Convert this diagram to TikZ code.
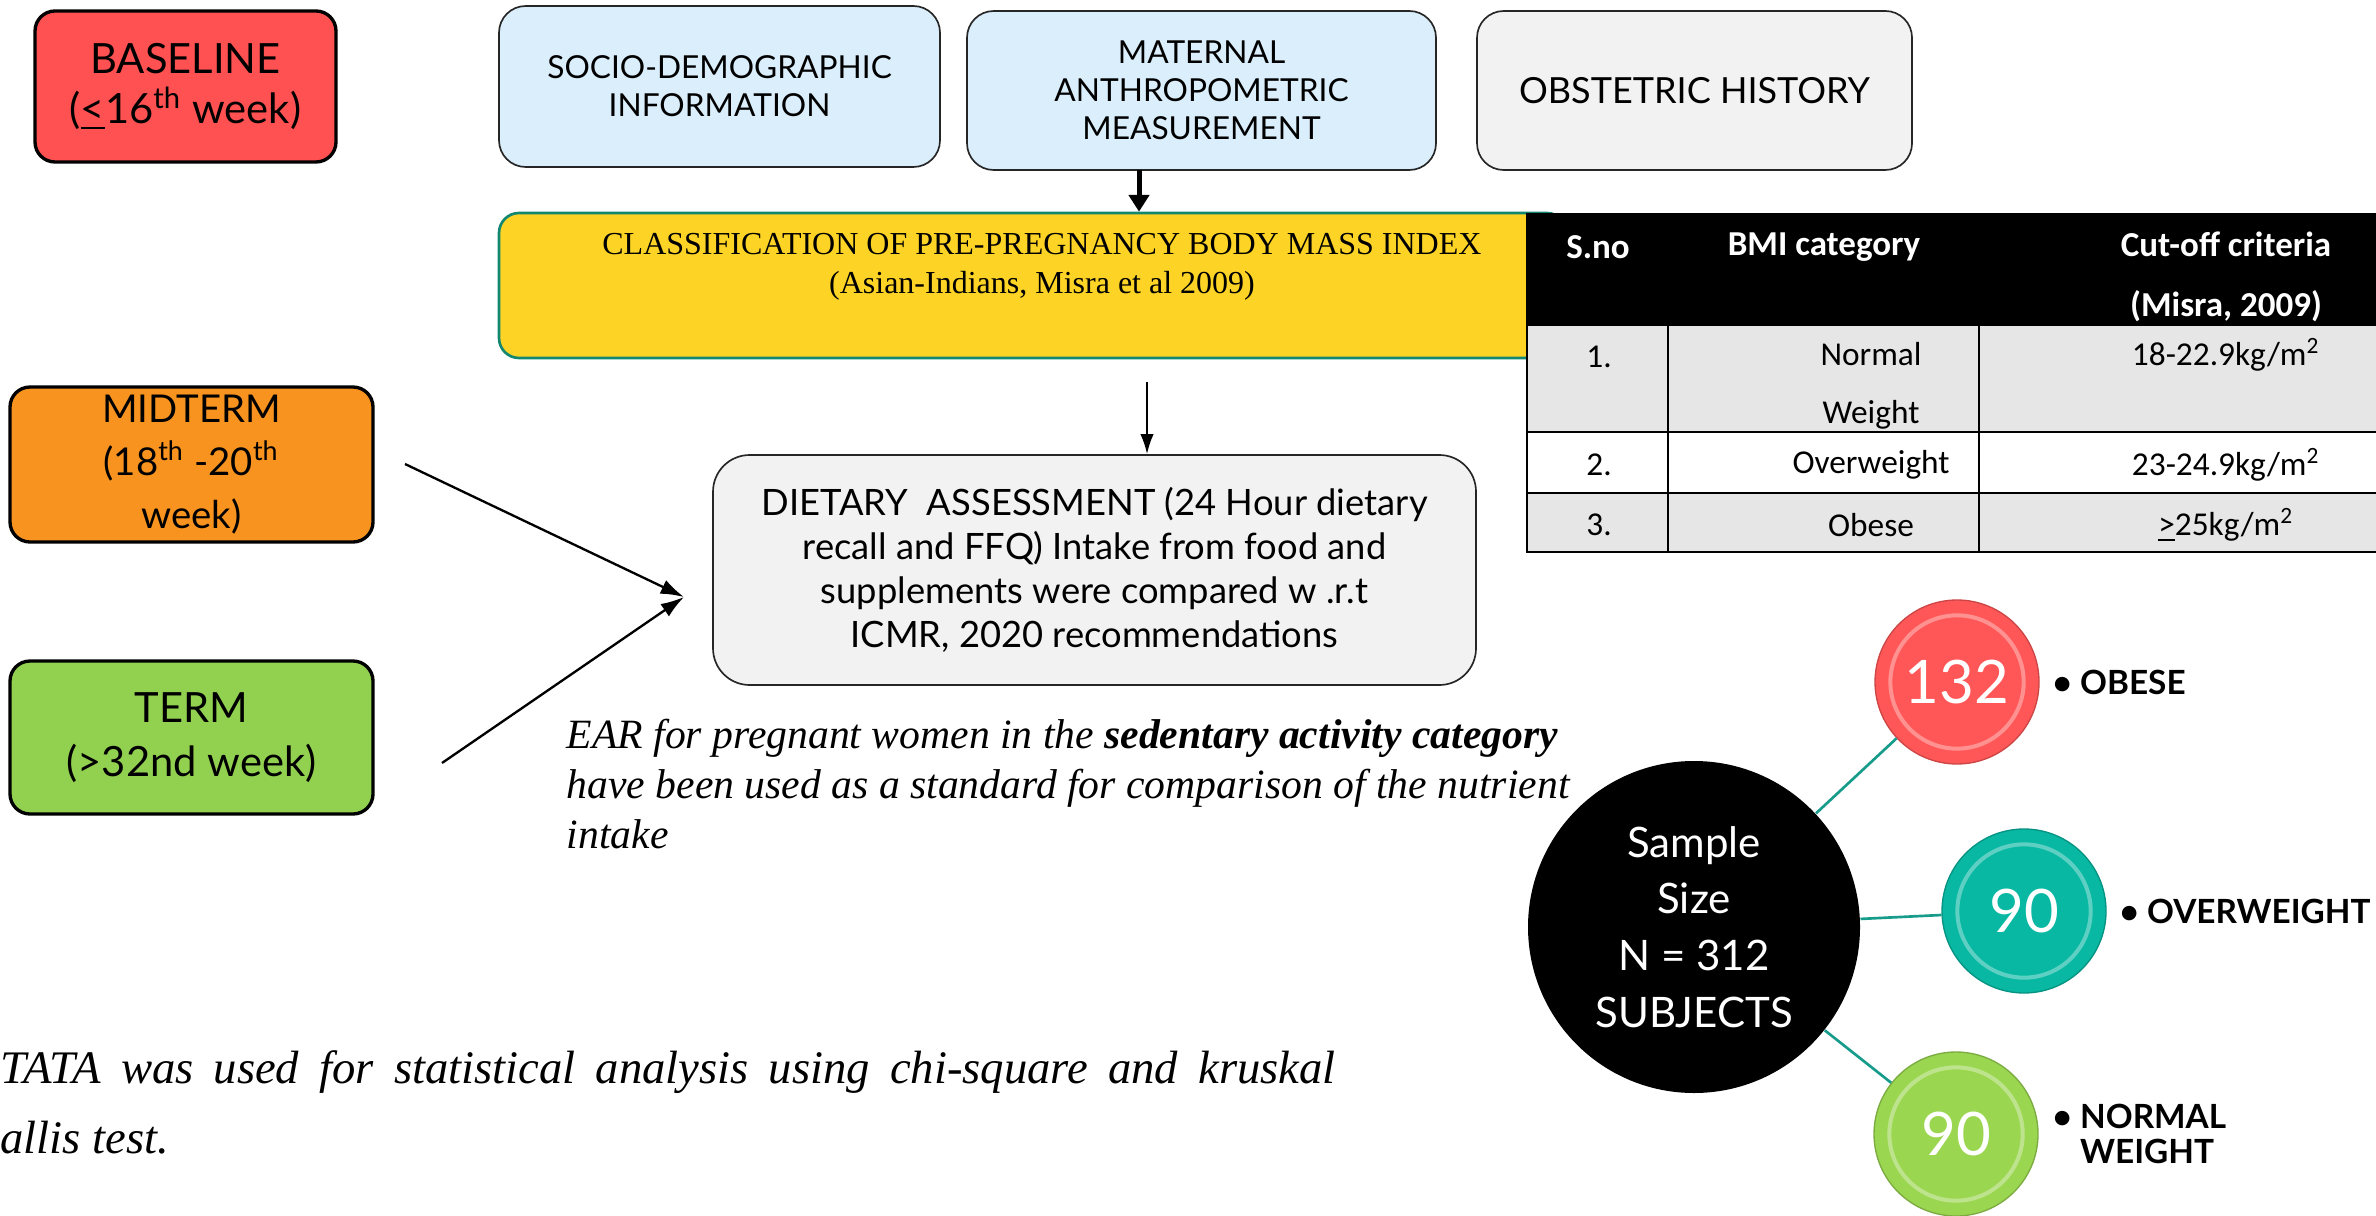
\documentclass[tikz,border=0pt]{standalone}
\usepackage{fontspec}
\setmainfont{Liberation Serif}
\newfontfamily\boxfont{Lato}
\newfontfamily\tabfont{Carlito}
\usetikzlibrary{arrows.meta,calc}

\definecolor{baselinered}{HTML}{FF5151}
\definecolor{infoblue}{HTML}{DAEEFB}
\definecolor{softgray}{HTML}{F2F2F2}
\definecolor{bmiyellow}{HTML}{FDD426}
\definecolor{bmiteal}{HTML}{13876F}
\definecolor{midorange}{HTML}{F7931E}
\definecolor{termgreen}{HTML}{92D050}
\definecolor{tabgray}{HTML}{E6E6E6}
\definecolor{obesered}{HTML}{FF5757}
\definecolor{overteal}{HTML}{08B8A3}
\definecolor{normgreen}{HTML}{9BD651}
\definecolor{linkteal}{HTML}{179C8B}

\tikzset{
  phase/.style={draw=black, line width=1pt, rounded corners=6pt, align=center, inner sep=0pt, font=\boxfont\fontsize{12.5}{15}\selectfont},
  info/.style={draw=black!85, line width=0.5pt, rounded corners=8pt, align=center, inner sep=0pt, font=\boxfont\fontsize{9.5}{11.4}\selectfont},
  tabhead/.style={text=white, font=\tabfont\bfseries\fontsize{10.5}{18}\selectfont, align=center, inner sep=0pt},
  tabcell/.style={font=\tabfont\fontsize{10}{17.4}\selectfont, align=center, inner sep=0pt},
  tally/.style={circle, minimum size=49.2pt, inner sep=0pt, draw=#1!80!black, line width=0.4pt, fill=#1, text=white, font=\boxfont\fontsize{18}{18}\selectfont,
    path picture={\draw[white, opacity=.35, line width=1.2pt] (path picture bounding box.center) circle (20pt);}},
  grouplabel/.style={anchor=west, inner sep=0pt, align=left, font=\boxfont\bfseries\fontsize{10}{10.5}\selectfont},
  tealline/.style={draw=linkteal, line width=0.8pt},
}

\begin{document}
\begin{tikzpicture}[x=0.3pt,y=-0.3pt]
\useasboundingbox (0,0) rectangle (2376,1215);

\node[phase, fill=baselinered, minimum width=90.3pt, minimum height=45.3pt] (baseline) at (185.5,86.5) {BASELINE\\(\underline{<}16\textsuperscript{th} week)};
\node[phase, fill=midorange, minimum width=108.9pt, minimum height=46.5pt, font=\boxfont\fontsize{11.5}{16}\selectfont] (midterm) at (191.5,464.5) {MIDTERM\\(18\textsuperscript{th} -20\textsuperscript{th}\\week)};
\node[phase, fill=termgreen, minimum width=108.9pt, minimum height=45.9pt, font=\boxfont\fontsize{12.5}{16}\selectfont] (term) at (191.5,737.5) {TERM\\(>32nd week)};

\node[info, fill=infoblue, minimum width=132.3pt, minimum height=48.3pt] (socio) at (719.5,86.5) {SOCIO-DEMOGRAPHIC\\INFORMATION};
\node[info, fill=infoblue, minimum width=140.7pt, minimum height=47.7pt] (maternal) at (1201.5,90.5) {MATERNAL\\ANTHROPOMETRIC\\MEASUREMENT};
\node[info, fill=softgray, minimum width=130.5pt, minimum height=47.7pt, font=\boxfont\fontsize{10.8}{13}\selectfont] (obstetric) at (1694.5,90.5) {OBSTETRIC HISTORY};

\node[draw=bmiteal, line width=0.8pt, fill=bmiyellow, rounded corners=6pt, minimum width=320.4pt, minimum height=43.5pt] (bmi) at (1033,285.5) {};
\node[align=center, inner sep=0pt, font=\fontsize{9.6}{11.6}\selectfont] (bmititle) at (1042,267) {CLASSIFICATION OF PRE-PREGNANCY BODY MASS INDEX\\(Asian-Indians, Misra et al 2009)};

\node[info, fill=softgray, rounded corners=11pt, minimum width=228.9pt, minimum height=69pt, font=\boxfont\fontsize{10.9}{13.2}\selectfont] (dietary) at (1094.5,570) {DIETARY\ \ ASSESSMENT (24 Hour dietary\\recall and FFQ) Intake from food and\\supplements were compared w .r.t\\ICMR, 2020 recommendations};

\node[anchor=west, align=left, inner sep=0pt, font=\itshape\fontsize{12.5}{15}\selectfont] (ear) at (566,784) {EAR for pregnant women in the \textbf{sedentary activity category}\\have been used as a standard for comparison of the nutrient\\intake};
\node[anchor=west, align=left, inner sep=0pt, font=\itshape\fontsize{14}{21}\selectfont] (stata) at (0,1102) {\makebox[400.5pt][s]{TATA was used for statistical analysis using chi-square and kruskal}\\allis test.};

\coordinate (matout) at (1139,170);
\draw[line width=1.5pt, -{Triangle[width=6pt,length=5pt]}] (matout) -- (matout |- bmi.north);
\coordinate (bmiout) at (1147,382);
\draw[line width=0.6pt, -{Latex[width=4pt,length=6pt]}] (bmiout) -- (bmiout |- dietary.north);
\coordinate (dietin) at (684,597);
\coordinate (midout) at (405,464);
\coordinate (termout) at (442,763);
\draw[line width=0.7pt, -{Latex[width=4.5pt,length=7pt]}] (midout) -- (dietin);
\draw[line width=0.7pt, -{Latex[width=4.5pt,length=7pt]}] (termout) -- (dietin);

\fill[black] (1527,213) rectangle (2376,325);
\fill[tabgray] (1527,325) rectangle (2376,432);
\fill[white] (1527,432) rectangle (2376,493);
\fill[tabgray] (1527,493) rectangle (2376,552);
\draw[line width=0.6pt] (1527,213) -- (1527,552) -- (2376,552);
\draw[line width=0.6pt] (1527,325) -- (2376,325) (1527,432) -- (2376,432) (1527,493) -- (2376,493);
\draw[line width=0.6pt] (1668,325) -- (1668,552) (1979,325) -- (1979,552);

\node[tabhead] (hsno) at (1598,247) {S.no};
\node[tabhead] (hbmi) at (1824,247) {BMI category};
\node[tabhead] (hcut) at (2226,277) {Cut-off criteria\\(Misra, 2009)};
\node[tabcell] (r1no) at (1599,357) {1.};
\node[tabcell] (r1cat) at (1871,386) {Normal\\Weight};
\node[tabcell] (r1cut) at (2226,355) {18-22.9kg/m\textsuperscript{2}};
\node[tabcell] (r2no) at (1599,465) {2.};
\node[tabcell] (r2cat) at (1871,465) {Overweight};
\node[tabcell] (r2cut) at (2226,465) {23-24.9kg/m\textsuperscript{2}};
\node[tabcell] (r3no) at (1599,525) {3.};
\node[tabcell] (r3cat) at (1871,525) {Obese};
\node[tabcell] (r3cut) at (2226,525) {\underline{>}25kg/m\textsuperscript{2}};

\node[circle, fill=black, minimum size=99.6pt, inner sep=0pt, align=center, text=white, font=\boxfont\fontsize{12.6}{17}\selectfont] (sample) at (1694,927) {Sample\\Size\\N = 312\\SUBJECTS};
\node[tally=obesered] (obese) at (1957,682) {132};
\node[tally=overteal] (over) at (2024,911) {90};
\node[tally=normgreen] (normal) at (1956,1134) {90};
\draw[tealline] (sample) -- (obese);
\draw[tealline] (sample) -- (over);
\draw[tealline] (sample) -- (normal);

\node[grouplabel] (obeselab) at (2052,682) {\textbullet\ OBESE};
\node[grouplabel] (overlab) at (2119,911) {\textbullet\ OVERWEIGHT};
\node[grouplabel] (normlab) at (2052,1134) {\textbullet\ NORMAL\\\phantom{\textbullet\ }WEIGHT};

\end{tikzpicture}
\end{document}
